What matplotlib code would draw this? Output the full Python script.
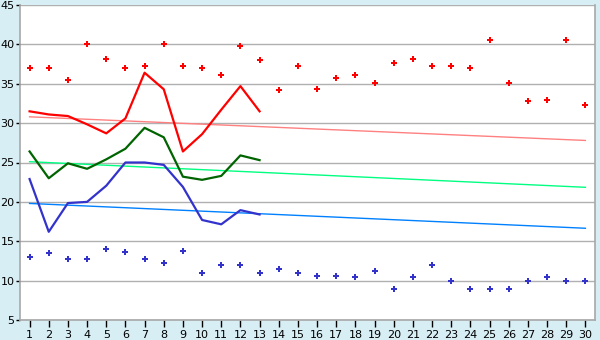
import matplotlib
matplotlib.use("Agg")
import matplotlib.pyplot as plt

days = list(range(1, 31))
max_pts = [37.0, 37.0, 35.5, 40.0, 38.2, 37.0, 37.3, 40.0, 37.2, 37.0,
           36.1, 39.75, 38.0, 34.2, 37.3, 34.3, 35.7, 36.1, 35.05, 37.6,
           38.2, 37.2, 37.2, 37.0, 40.6, 35.05, 32.8, 33.0, 40.5, 32.3]
min_pts = [13.0, 13.5, 12.8, 12.8, 14.0, 13.6, 12.8, 12.2, 13.7, 11.0,
           12.0, 12.0, 11.0, 11.5, 11.0, 10.6, 10.6, 10.5, 11.2, 9.0,
           10.5, 12.0, 10.0, 9.0, 9.0, 9.0, 10.0, 10.5, 10.0, 10.0]
line_days = list(range(1, 14))
red_line = [31.5, 31.1, 30.9, 29.85, 28.7, 30.6, 36.4, 34.3, 26.4, 28.6, 31.7, 34.7, 31.5]
green_line = [26.4, 23.0, 24.9, 24.2, 25.4, 26.75, 29.4, 28.2, 23.2, 22.8, 23.3, 25.9, 25.3]
blue_line = [22.9, 16.2, 19.85, 20.0, 22.05, 25.0, 25.0, 24.7, 21.9, 17.7, 17.15, 18.95, 18.4]
trend_days = [1, 30]
red_trend = [30.8, 27.8]
green_trend = [25.1, 21.85]
blue_trend = [19.8, 16.65]

bg = "#d8eef5"
fig = plt.figure(figsize=(6, 3.4), dpi=100, facecolor=bg)
ax = fig.add_axes([20/600, 20/340, 575/600, 315/340])
ax.set_facecolor("white")

ax.set_xlim(0.5, 30.5)
ax.set_ylim(5, 45)
ax.set_yticks(range(5, 46, 5))
ax.set_xticks(days)
ax.yaxis.grid(True, color="#b0b0b0", linewidth=1.0)
ax.set_axisbelow(True)

for s in ["left", "bottom", "right"]:
    ax.spines[s].set_color("#a8a8a8")
    ax.spines[s].set_linewidth(1.2)
ax.spines["top"].set_visible(False)

ax.tick_params(axis="y", length=3, width=1, color="black", labelsize=8, pad=1)
ax.tick_params(axis="x", length=5, width=1, color="black", labelsize=8, pad=2)

ax.plot(trend_days, red_trend, color="#ff8080", lw=1.0)
ax.plot(trend_days, green_trend, color="#00ff80", lw=1.0)
ax.plot(trend_days, blue_trend, color="#0080ff", lw=1.0)

ax.plot(line_days, red_line, color="#ff0000", lw=1.6)
ax.plot(line_days, green_line, color="#006400", lw=1.6)
ax.plot(line_days, blue_line, color="#3333cc", lw=1.6)

ax.plot(days, max_pts, linestyle="none", marker="P", ms=4.5, color="#ff0000", mew=0)
ax.plot(days, min_pts, linestyle="none", marker="P", ms=4.5, color="#3333cc", mew=0)

fig.savefig("out.png", dpi=100, facecolor=bg)
